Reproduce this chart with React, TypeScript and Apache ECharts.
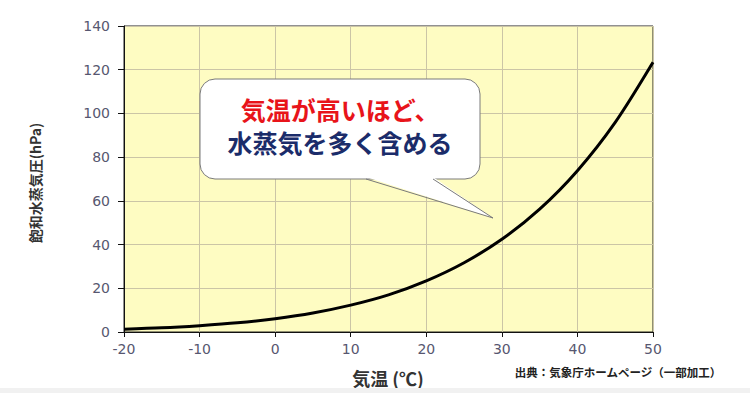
import React, { useEffect, useRef } from "react";
import * as echarts from "echarts";

const temps = [-20, -15, -10, -5, 0, 5, 10, 15, 20, 25, 30, 35, 40, 45, 50];
const pressures = [1.3, 1.9, 2.9, 4.2, 6.1, 8.7, 12.3, 17.0, 23.4, 31.7, 42.4, 56.2, 73.8, 95.9, 123.4];
const xTicks = { min: -20, max: 50, interval: 10 };
const yTicks = { min: 0, max: 140, interval: 20 };
const calloutLine1 = "気温が高いほど、";
const calloutLine2 = "水蒸気を多く含める";
const xName = "気温 (℃)";
const yName = "飽和水蒸気圧(hPa)";
const source = "出典：気象庁ホームページ（一部加工）";

export default function App() {
  const ref = useRef<HTMLDivElement>(null);
  useEffect(() => {
    if (!ref.current) return;
    const chart = echarts.init(ref.current, null, { renderer: "svg" });
    const cjk = '"Noto Sans CJK JP", sans-serif';
    const tickFont = '"DejaVu Sans", Verdana, sans-serif';
    chart.setOption({
      animation: false,
      backgroundColor: "#ffffff",
      grid: {
        left: 124,
        right: 97,
        top: 26,
        bottom: 61,
        show: true,
        backgroundColor: "#FEFCC2",
        borderColor: "#222",
        borderWidth: 1,
      },
      xAxis: {
        type: "value",
        min: xTicks.min,
        max: xTicks.max,
        interval: xTicks.interval,
        axisLine: { show: true, onZero: false, lineStyle: { color: "#111", width: 1 } },
        axisTick: { show: true, length: 5, lineStyle: { color: "#111" } },
        axisLabel: { color: "#575770", fontSize: 14, fontFamily: tickFont, margin: 10 },
        splitLine: { show: true, lineStyle: { color: "#CBC5A6", width: 1 } },
      },
      yAxis: {
        type: "value",
        min: yTicks.min,
        max: yTicks.max,
        interval: yTicks.interval,
        axisLine: { show: true, onZero: false, lineStyle: { color: "#111", width: 1 } },
        axisTick: { show: true, length: 6, lineStyle: { color: "#111" } },
        axisLabel: { color: "#575770", fontSize: 14, fontFamily: tickFont, margin: 14 },
        splitLine: { show: true, lineStyle: { color: "#CBC5A6", width: 1 } },
      },
      series: [
        {
          type: "line",
          data: temps.map((t, i) => [t, pressures[i]]),
          smooth: 0.3,
          showSymbol: false,
          lineStyle: { color: "#000", width: 3 },
        },
      ],
      graphic: [
        {
          type: "rect",
          shape: { x: 200, y: 79, width: 280, height: 100, r: 15 },
          style: { fill: "#fff", stroke: "#7a7a7a", lineWidth: 1 },
          z: 100,
        },
        {
          type: "polygon",
          shape: { points: [[366, 177], [433, 177], [493, 218]] },
          style: { fill: "#fff", stroke: null },
          z: 101,
        },
        {
          type: "polyline",
          shape: { points: [[366, 179], [493, 218], [433, 179]] },
          style: { fill: null, stroke: "#7a7a7a", lineWidth: 1 },
          z: 102,
        },
        {
          type: "text",
          x: 340,
          y: 109,
          style: {
            text: calloutLine1,
            fill: "#E8141A",
            font: `bold 25px ${cjk}`,
            lineHeight: 27,
            textAlign: "center",
            textVerticalAlign: "middle",
          },
          z: 103,
        },
        {
          type: "text",
          x: 340,
          y: 142,
          style: {
            text: calloutLine2,
            fill: "#1B2C6A",
            font: `bold 25px ${cjk}`,
            lineHeight: 27,
            textAlign: "center",
            textVerticalAlign: "middle",
          },
          z: 103,
        },
        {
          type: "text",
          x: 35,
          y: 183,
          rotation: Math.PI / 2,
          style: {
            text: yName,
            fill: "#333",
            font: `bold 14px ${cjk}`,
            textAlign: "center",
            textVerticalAlign: "middle",
          },
        },
        {
          type: "text",
          x: 388,
          y: 378,
          style: {
            text: xName,
            fill: "#333",
            font: `bold 18px ${cjk}`,
            textAlign: "center",
            textVerticalAlign: "middle",
          },
        },
        {
          type: "text",
          x: 618,
          y: 372,
          style: {
            text: source,
            fill: "#222",
            font: `bold 11.5px ${cjk}`,
            textAlign: "center",
            textVerticalAlign: "middle",
          },
        },
        {
          type: "rect",
          shape: { x: 0, y: 388, width: 750, height: 5 },
          style: { fill: "#F1F1F1" },
        },
      ],
    });
    return () => chart.dispose();
  }, []);
  return (
    <div
      ref={ref}
      style={{ position: "fixed", left: 0, top: 0, width: 750, height: 393 }}
    />
  );
}
